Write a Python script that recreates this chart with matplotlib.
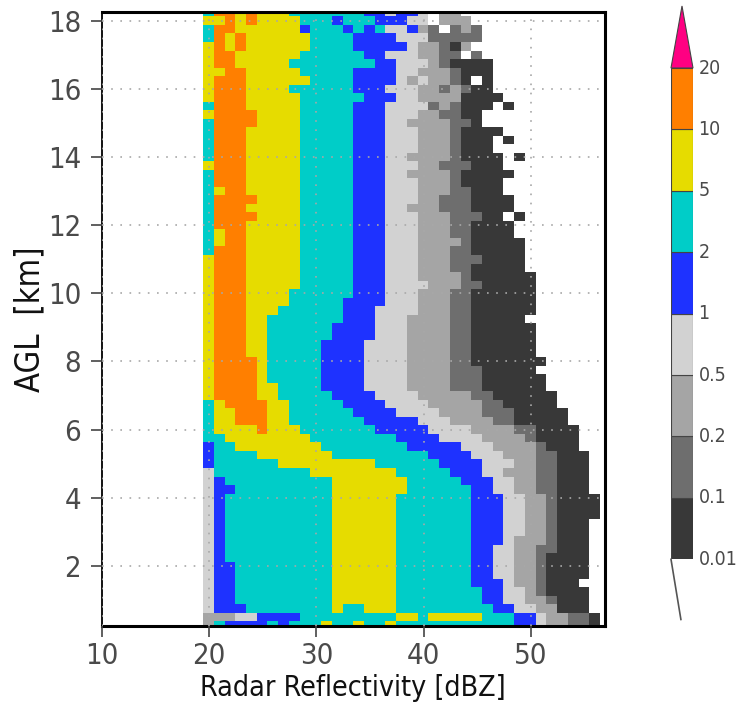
# cfad_reflectivity.py
"""Contoured frequency by altitude of radar reflectivity, shaded by class."""

import numpy as np
import matplotlib
matplotlib.use("Agg")
import matplotlib.pyplot as plt
from matplotlib.colors import BoundaryNorm, ListedColormap

# colour classes, low to high frequency (class 1 = 0.01-0.1 ... class 9 = above 20)
freq_levels = [0.01, 0.1, 0.2, 0.5, 1, 2, 5, 10, 20, 40]
freq_labels = ["0.01", "0.1", "0.2", "0.5", "1", "2", "5", "10", "20"]
class_colors = ["#383838", "#6e6e6e", "#a5a5a5", "#d2d2d2", "#1e32ff",
                "#00cdc8", "#e6dc00", "#ff7f00", "#ff0082"]

x_ticks = [10, 20, 30, 40, 50]
y_ticks = [2, 4, 6, 8, 10, 12, 14, 16, 18]

# one row per height level, from 18.25 km down to 0.25 km in 0.25 km steps
# each token is class:last_bin, bin 0 is the 20 dBZ bin, "0" means no data
rows = [
    "6:0 8:2 7:3 8:4 7:7 6:14 5:16 4:17 5:19 4:20 0:21 3:23",
    "7:1 8:2 7:3 8:4 7:8 6:11 5:12 6:15 5:18 4:20 0:21 3:24",
    "6:0 8:2 7:8 5:9 6:12 5:13 6:14 5:15 6:16 4:18 5:19 3:20 2:21 0:22 2:23 3:24 2:25",
    "6:0 8:1 7:2 8:3 7:9 6:13 5:17 4:20 2:25",
    "7:0 8:1 7:2 8:3 7:9 6:13 5:18 4:19 3:21 2:22 1:23 3:24",
    "7:0 8:2 7:8 6:14 5:16 4:19 3:21 2:23 0:24 2:25",
    "7:0 8:2 7:7 6:15 5:17 4:20 3:21 2:22 1:26",
    "7:1 8:3 7:8 6:13 5:17 4:19 3:22 2:23 1:26",
    "7:0 8:3 7:9 6:13 5:17 4:18 3:19 4:20 3:22 2:23 1:24 0:25 1:26",
    "7:0 8:3 7:7 6:13 5:16 4:19 3:21 2:22 3:23 2:24 1:26",
    "7:0 8:3 7:8 6:14 5:17 4:19 3:23 1:27",
    "6:0 8:3 7:8 6:13 5:16 4:20 2:21 3:22 2:23 1:26 0:27 1:28",
    "7:0 8:4 7:8 6:13 5:16 4:19 3:21 2:23 1:25",
    "6:0 8:4 7:8 6:13 5:16 4:18 3:22 2:24 1:25",
    "6:0 8:3 7:8 6:13 5:16 4:19 3:22 2:23 1:27",
    "6:0 8:3 7:8 6:13 5:16 4:19 3:22 2:23 1:26 0:27 1:28",
    "6:0 8:3 7:8 6:13 5:16 4:19 3:22 2:23 1:26",
    "6:0 8:3 7:8 6:13 5:16 4:18 3:22 2:23 1:27 0:28 1:29",
    "7:0 8:3 7:8 6:13 5:16 4:19 3:21 2:24 1:27",
    "6:0 8:3 7:8 6:13 5:16 4:18 3:22 2:23 1:28",
    "6:0 8:3 7:8 6:13 5:16 4:19 3:22 2:23 1:27",
    "6:0 7:1 8:3 7:8 6:13 5:16 4:19 3:22 2:24 1:27",
    "6:0 8:4 7:8 6:13 5:16 4:19 3:21 2:24 1:28",
    "6:0 8:3 7:8 6:13 5:16 4:18 3:21 2:24 1:28",
    "6:0 8:4 7:8 6:13 5:16 4:19 3:22 2:25 1:27 0:28 1:29",
    "6:0 8:3 7:8 6:13 5:16 4:19 3:22 2:24 1:28",
    "6:0 7:1 8:3 7:8 6:13 5:16 4:19 3:22 2:24 1:28",
    "6:0 7:1 8:3 7:8 6:13 5:16 4:19 3:23 2:24 1:29",
    "6:0 8:3 7:8 6:13 5:16 4:19 3:22 2:24 1:29",
    "7:0 8:3 7:8 6:13 5:16 4:19 3:22 2:25 1:29",
    "7:0 8:3 7:8 6:13 5:16 4:19 3:22 2:24 1:29",
    "7:0 8:3 7:8 6:13 5:16 4:19 3:23 2:24 1:30",
    "7:0 8:3 7:8 6:13 5:16 4:20 3:23 2:25 1:30",
    "7:0 8:3 7:7 6:13 5:16 4:19 3:22 2:24 1:30",
    "7:0 8:3 7:7 6:12 5:16 4:19 3:22 2:24 1:30",
    "7:0 8:3 7:6 6:12 5:15 4:19 3:22 2:24 1:30",
    "7:0 8:3 7:5 6:12 5:15 4:18 3:22 2:24 1:29",
    "7:0 8:3 7:5 6:11 5:15 4:18 3:22 2:24 1:30",
    "7:0 8:3 7:5 6:11 5:15 4:18 3:22 2:24 1:30",
    "7:0 8:3 7:5 6:10 5:14 4:18 3:22 2:24 1:30",
    "7:0 8:3 7:5 6:10 5:14 4:18 3:22 2:24 1:30",
    "7:0 8:4 7:5 6:10 5:14 4:18 3:22 2:24 1:31",
    "7:0 8:4 7:5 6:10 5:14 4:18 3:22 2:25 1:30",
    "7:0 8:4 7:5 6:10 5:14 4:18 3:22 2:25 1:31",
    "7:0 8:4 7:6 6:10 5:14 4:18 3:22 2:25 1:31",
    "7:0 8:4 7:6 6:11 5:15 4:19 3:24 2:26 1:32",
    "6:0 7:1 8:5 7:7 6:12 5:16 4:20 3:25 2:27 1:32",
    "6:0 7:2 8:5 7:7 6:13 5:17 4:21 3:25 2:28 1:33",
    "6:0 7:2 8:5 7:7 6:14 5:19 4:22 3:26 2:28 1:33",
    "6:0 7:4 8:5 7:8 6:15 5:20 4:24 3:28 2:30 1:34",
    "6:1 7:9 6:17 5:21 4:25 3:29 2:30 1:34",
    "5:0 6:2 7:10 6:18 5:23 4:26 3:30 2:31 1:34",
    "5:0 6:4 7:11 6:20 5:24 4:27 3:30 2:32 1:35",
    "5:0 6:6 7:15 6:21 5:25 4:28 3:30 2:32 1:35",
    "4:0 6:9 7:17 6:22 5:25 4:27 3:30 2:32 1:35",
    "4:0 5:1 6:11 7:18 6:23 5:26 4:28 3:30 2:32 1:35",
    "4:0 5:2 6:11 7:18 6:24 5:26 4:28 3:30 2:32 1:35",
    "4:0 5:1 6:11 7:17 6:24 5:27 4:29 3:31 2:32 1:36",
    "4:0 5:1 6:11 7:17 6:24 5:27 4:29 3:31 2:32 1:36",
    "4:0 5:1 6:11 7:17 6:24 5:27 4:29 3:31 2:32 1:36",
    "4:0 5:1 6:11 7:17 6:24 5:27 4:29 3:31 2:32 1:35",
    "4:0 5:1 6:11 7:17 6:24 5:27 4:29 3:31 2:32 1:35",
    "4:0 5:1 6:11 7:17 6:24 5:27 4:28 3:31 2:32 1:35",
    "4:0 5:1 6:11 7:17 6:24 5:26 4:28 3:30 2:32 1:35",
    "4:0 5:1 6:11 7:17 6:24 5:26 4:28 3:30 2:31 1:35",
    "4:0 5:2 6:11 7:17 6:24 5:26 4:28 3:30 2:31 1:35",
    "4:0 5:2 6:11 7:17 6:24 5:26 4:28 3:30 2:31 1:35",
    "4:0 5:2 6:11 7:17 6:24 5:27 4:28 3:30 2:31 1:34",
    "4:0 5:2 6:11 7:17 6:25 5:27 4:29 3:30 2:31 1:35",
    "4:0 5:2 6:11 7:17 6:25 5:27 4:29 3:31 2:32 1:35",
    "4:0 5:3 6:11 7:12 6:14 7:17 6:26 5:28 4:30 3:32 1:35",
    "3:2 4:4 5:8 6:17 7:19 6:20 7:25 6:28 5:30 4:31 3:33 2:35 1:36",
    "3:0 6:1 5:5 6:6 5:7 6:10 7:11 6:13 7:14 6:16 7:17 6:28 5:30 4:31 3:33 2:35 1:36",
]


def build_grid():
    """Turn the class runs into a height by bin array of frequencies"""
    mids = [np.sqrt(freq_levels[i] * freq_levels[i + 1]) for i in range(9)]
    grid = np.full((len(rows), 38), np.nan)
    for r, row in enumerate(rows):
        start = 0
        for token in row.split():
            cls, last = token.split(":")
            if cls != "0":
                grid[r, start:int(last) + 1] = mids[int(cls) - 1]
            start = int(last) + 1
    return grid


def plot_cfad():
    plt.rcParams["font.family"] = ["DejaVu Sans"]
    plt.rcParams["font.stretch"] = "condensed"

    fig = plt.figure(figsize=(7.41, 7.09), dpi=100)
    ax = fig.add_axes([102 / 741, 1 - 625.6 / 709, 503 / 741, 613.4 / 709])

    grid = build_grid()
    x_edges = 19.43 + np.arange(grid.shape[1] + 1)
    y_edges = 18.375 - 0.25 * np.arange(grid.shape[0] + 1)
    cmap = ListedColormap(class_colors)
    norm = BoundaryNorm(freq_levels, cmap.N)
    ax.pcolormesh(x_edges, y_edges, grid, cmap=cmap, norm=norm, zorder=1)

    ax.set_xlim(10, 56.9)
    ax.set_ylim(0.25, 18.25)
    ax.set_xticks(x_ticks)
    ax.set_yticks(y_ticks)
    ax.grid(True, color="#a8a8a8", linestyle=(0, (1, 4.5)), linewidth=1.2, zorder=2)
    ax.set_axisbelow(False)

    ax.tick_params(axis="both", length=8, width=1.2, color="#444444",
                   labelsize=21, labelcolor="#4a4a4a")
    ax.tick_params(axis="x", pad=4)
    ax.tick_params(axis="y", pad=7)
    for side in ["top", "bottom", "right"]:
        ax.spines[side].set_linewidth(2.2)
    ax.spines["left"].set_linewidth(1.3)

    fig.text(353 / 741, 1 - 688 / 709, "Radar Reflectivity [dBZ]", fontsize=20.5,
             ha="center", va="center", color="#111111")
    fig.text(30 / 741, 1 - 319 / 709, "AGL  [km]", fontsize=23.5, rotation=90,
             ha="center", va="center", color="#111111")

    # colour key with equal boxes and triangular ends
    cax = fig.add_axes([671 / 741, 1 - 559.3 / 709, 22 / 741, 491.3 / 709])
    cax.set_xlim(0, 1)
    cax.set_ylim(0, 8)
    cax.axis("off")
    for i, color in enumerate(class_colors[:-1]):
        cax.bar(0.5, 1, width=1, bottom=i, color=color, edgecolor="#444444", linewidth=0.8)
        cax.text(1.25, i + 1, freq_labels[i + 1], fontsize=14,
                 color="#4a4a4a", va="center", clip_on=False)
    cax.text(1.25, 0, freq_labels[0], fontsize=14, color="#4a4a4a", va="center", clip_on=False)
    cax.fill([0, 1, 0.5], [8, 8, 9.01], facecolor=class_colors[-1], edgecolor="#444444",
             linewidth=0.8, clip_on=False)
    cax.plot([0, 0.45], [0, -0.98], color="#555555", linewidth=1.2, clip_on=False)

    plt.savefig("out.png", dpi=100)
    plt.close()


if __name__ == "__main__":
    plot_cfad()
